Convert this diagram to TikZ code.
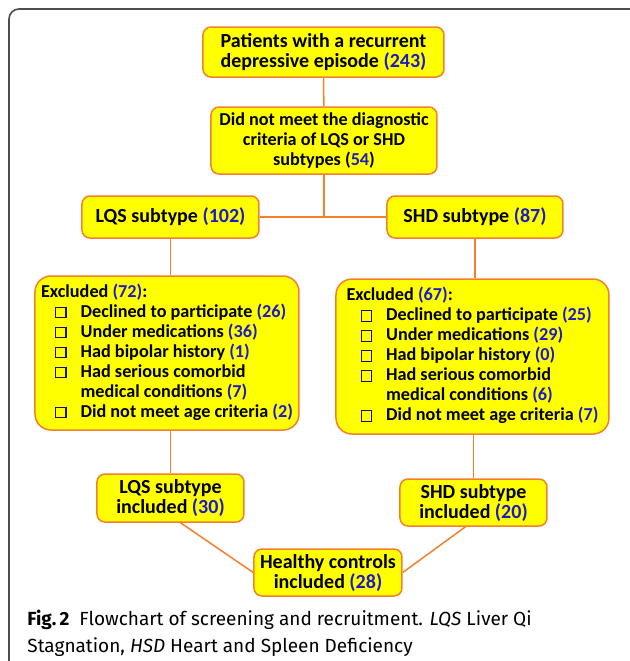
\documentclass[tikz,border=0pt]{standalone}
\usepackage{fontspec}
\setmainfont{Carlito}
\newfontfamily\capfont{Fira Sans}
\definecolor{boxfill}{HTML}{FFFF00}
\definecolor{boxline}{HTML}{F4802C}
\definecolor{numblue}{HTML}{1C1CC4}
\definecolor{chkline}{HTML}{14144A}
\definecolor{framegray}{HTML}{4D4D4D}
\newcommand{\num}[1]{\textcolor{numblue}{#1}}
\newcommand{\chkbox}{{\color{chkline}\setlength{\fboxsep}{0pt}\setlength{\fboxrule}{0.6pt}\fbox{\rule{0pt}{4.6pt}\hspace{4.6pt}}}}

\tikzset{
	flowbox/.style={draw=boxline, fill=boxfill, line width=0.75pt, rounded corners=4pt,
		font=\bfseries\fontsize{10}{10}\selectfont, align=center, inner sep=0pt},
	smallbox/.style={flowbox, font=\bfseries\fontsize{9.1}{9.8}\selectfont},
	exclbox/.style={flowbox, rounded corners=8pt, font=\bfseries\fontsize{9.1}{10}\selectfont},
	link/.style={draw=boxline, line width=0.75pt}
}

\begin{document}
\begin{tikzpicture}[x=0.5pt, y=-0.5pt]
	\useasboundingbox (0,0) rectangle (629,661);
	% frame of the figure
	\draw[framegray, line width=0.8pt, rounded corners=5pt] (660,9) -- (9,9) -- (9,700);

	% boxes
	\node[flowbox, minimum width=120.5pt, minimum height=25pt] (top) at (323.5,52)
		{Patients with a recurrent\\depressive episode \num{(243)}};
	\node[smallbox, minimum width=113pt, minimum height=33.5pt] (crit) at (324,140.5)
		{Did not meet the diagnostic\\criteria of LQS or SHD\\subtypes (\num{54})};
	\node[flowbox, minimum width=88.5pt, minimum height=21pt] (lqs) at (170.5,217)
		{LQS subtype \num{(102)}};
	\node[flowbox, minimum width=88pt, minimum height=21pt] (shd) at (475,217)
		{SHD subtype \num{(87)}};
	\coordinate (junc) at (324,217);

	\node[exclbox, minimum width=132pt, minimum height=77pt] (exl) at (167,353)
		{\begin{tabular}{@{\hspace{7pt}}c@{\hspace{7pt}}l@{}}
			\multicolumn{2}{@{}l@{}}{Excluded \num{(72)}:}\\
			\chkbox & Declined to participate \num{(26)}\\
			\chkbox & Under medications \num{(36)}\\
			\chkbox & Had bipolar history \num{(1)}\\
			\chkbox & Had serious comorbid\\
			        & medical conditions \num{(7)}\\
			\chkbox & Did not meet age criteria \num{(2)}
		\end{tabular}};
	\node[exclbox, minimum width=136.5pt, minimum height=77.5pt] (exs) at (472.5,356.5)
		{\begin{tabular}{@{\hspace{7pt}}c@{\hspace{7pt}}l@{}}
			\multicolumn{2}{@{}l@{}}{Excluded \num{(67)}:}\\
			\chkbox & Declined to participate \num{(25)}\\
			\chkbox & Under medications \num{(29)}\\
			\chkbox & Had bipolar history \num{(0)}\\
			\chkbox & Had serious comorbid\\
			        & medical conditions \num{(6)}\\
			\chkbox & Did not meet age criteria \num{(7)}
		\end{tabular}};

	\node[flowbox, minimum width=73.5pt, minimum height=24pt] (inl) at (170.5,498)
		{LQS subtype\\included \num{(30)}};
	\node[flowbox, minimum width=73.5pt, minimum height=23.5pt] (ins) at (473.5,502.5)
		{SHD subtype\\included \num{(20)}};
	\node[flowbox, minimum width=74pt, minimum height=23.5pt] (hc) at (328,572.5)
		{Healthy controls\\included \num{(28)}};

	% connectors
	\draw[link] (top) -- (crit);
	\draw[link] (crit) -- (junc);
	\draw[link] (lqs) -- (shd);
	\draw[link] (lqs.south) -- (lqs.south |- exl.north);
	\draw[link] (shd.south) -- (shd.south |- exs.north);
	\draw[link] (exl.south -| inl.north) -- (inl.north);
	\draw[link] (exs.south -| ins.north) -- (ins.north);
	\draw[link] ([xshift=5pt]inl.south) -- (hc.west);
	\draw[link] ([xshift=-4pt]ins.south) -- (hc.east);

	% caption
	\node[anchor=base west, inner sep=0pt, align=left, font=\capfont\fontsize{9.5}{13.5}\selectfont] (cap) at (27,652)
		{\textbf{Fig.\,2}\hspace{5pt}Flowchart of screening and recruitment. \textit{LQS} Liver Qi\\
		Stagnation, \textit{HSD} Heart and Spleen Deficiency};
\end{tikzpicture}
\end{document}
